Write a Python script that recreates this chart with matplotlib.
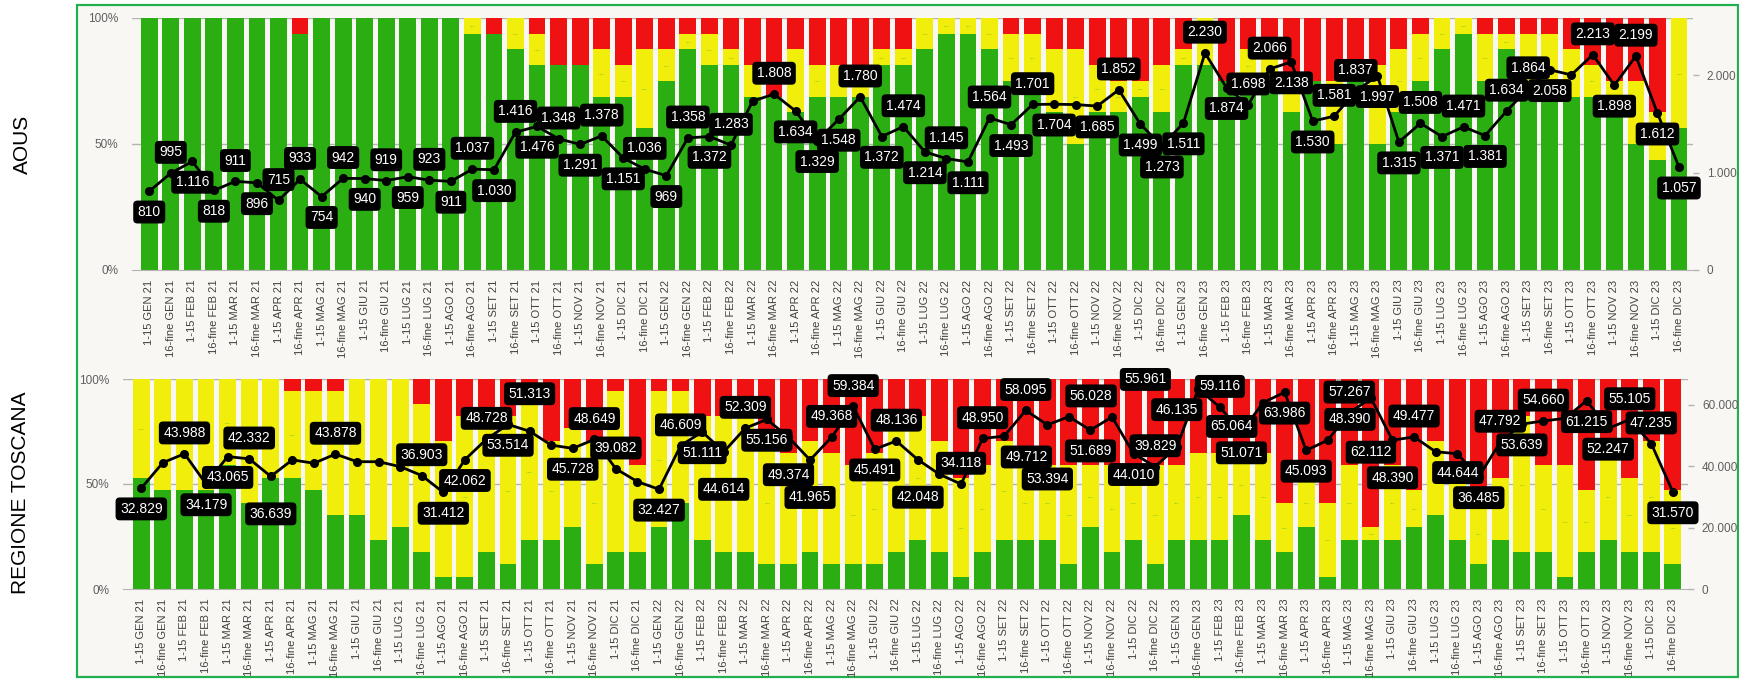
import matplotlib
matplotlib.use("Agg")
import matplotlib.pyplot as plt
import numpy as np
from matplotlib.patches import Rectangle

plt.rcParams['font.family'] = ['Liberation Sans', 'DejaVu Sans']

months = ["GEN", "FEB", "MAR", "APR", "MAG", "GIU", "LUG", "AGO", "SET", "OTT", "NOV", "DIC"]
years = ["21", "22", "23"]
periods = [f"{h} {m} {y}" for y in years for m in months for h in ("1-15", "16-fine")]

# AOUS: conteggi verde / giallo / rosso per quindicina
aous_green = [16, 16, 16, 16, 16, 16, 16, 15, 16, 16, 16, 16, 16, 16, 16, 15,
              15, 14, 13, 13, 13, 11, 11, 9, 12, 14, 13, 13, 11, 11, 10, 11,
              11, 11, 13, 13, 14, 15, 15, 14, 12, 12, 10, 8, 10, 10, 11, 10,
              13, 13, 12, 12, 12, 10, 12, 8, 12, 8, 10, 12, 14, 15, 12, 14,
              11, 11, 11, 11, 10, 8, 7, 9]
aous_yellow = [0, 0, 0, 0, 0, 0, 0, 0, 0, 0, 0, 0, 0, 0, 0, 1,
               0, 2, 2, 0, 0, 3, 2, 5, 2, 1, 2, 1, 2, 0, 4, 2,
               2, 2, 1, 1, 2, 1, 1, 2, 3, 3, 4, 6, 3, 2, 1, 3,
               1, 3, 0, 2, 2, 2, 0, 4, 0, 5, 4, 3, 2, 1, 3, 1,
               4, 4, 3, 2, 2, 4, 3, 7]
aous_red = [0, 0, 0, 0, 0, 0, 0, 1, 0, 0, 0, 0, 0, 0, 0, 0,
            1, 0, 1, 3, 3, 2, 3, 2, 2, 1, 1, 2, 3, 5, 2, 3,
            3, 3, 2, 2, 0, 0, 0, 0, 1, 1, 2, 2, 3, 4, 4, 3,
            2, 0, 4, 2, 2, 4, 4, 4, 4, 3, 2, 1, 0, 0, 1, 1,
            1, 1, 2, 3, 4, 4, 6, 0]
aous_total = [810, 995, 1116, 818, 911, 896, 715, 933, 754, 942, 940, 919, 959, 923, 911, 1037,
              1030, 1416, 1476, 1348, 1291, 1378, 1151, 1036, 969, 1358, 1372, 1283, 1735, 1808, 1634, 1329,
              1548, 1780, 1372, 1474, 1214, 1145, 1111, 1564, 1493, 1701, 1704, 1700, 1685, 1852, 1499, 1273,
              1511, 2230, 1874, 1698, 2066, 2138, 1530, 1581, 1837, 1997, 1315, 1508, 1371, 1471, 1381, 1634,
              1864, 2058, 2005, 2213, 1898, 2199, 1612, 1057]
aous_hidden = [28, 43, 66]

# REGIONE TOSCANA
tosc_green = [9, 8, 8, 8, 10, 7, 9, 9, 8, 6, 6, 4, 5, 3, 1, 1,
              3, 2, 4, 4, 5, 2, 3, 3, 5, 7, 4, 3, 3, 2, 2, 3,
              2, 2, 2, 3, 4, 3, 1, 3, 4, 4, 4, 2, 5, 3, 4, 2,
              4, 4, 4, 6, 4, 3, 5, 1, 4, 4, 4, 5, 6, 4, 2, 4,
              3, 3, 1, 3, 4, 3, 3, 2]
tosc_yellow = [8, 9, 9, 9, 7, 10, 8, 7, 8, 10, 11, 13, 12, 12, 11, 13,
               11, 12, 11, 8, 8, 10, 13, 7, 11, 9, 10, 11, 11, 10, 9, 9,
               9, 8, 9, 11, 10, 9, 8, 7, 8, 6, 6, 8, 5, 7, 6, 8,
               6, 7, 7, 5, 7, 4, 4, 6, 6, 1, 6, 3, 6, 6, 5, 5,
               11, 7, 9, 5, 7, 6, 9, 6]
tosc_red = [0, 0, 0, 0, 0, 0, 0, 1, 1, 1, 0, 0, 0, 2, 5, 3,
            3, 3, 2, 5, 4, 5, 1, 7, 1, 1, 3, 3, 3, 5, 6, 5,
            6, 7, 6, 3, 3, 5, 8, 7, 5, 7, 7, 7, 7, 7, 7, 7,
            7, 6, 6, 6, 6, 10, 8, 10, 7, 12, 7, 9, 5, 7, 10, 8,
            3, 7, 7, 9, 6, 8, 5, 9]
tosc_total = [32829, 41100, 43988, 34179, 43065, 42332, 36639, 42000, 40900, 43878, 41400, 41400, 39800, 36903, 31412, 42062,
              48728, 53514, 51313, 46800, 45728, 48649, 39082, 34900, 32427, 46609, 51111, 44614, 52309, 55156, 49374, 41965,
              49368, 59384, 45491, 48136, 42048, 37300, 34118, 48950, 49712, 58095, 53394, 56028, 51689, 55961, 44010, 39829,
              46135, 65064, 59116, 51071, 60600, 63986, 45093, 48390, 57267, 62112, 48390, 49477, 44644, 44000, 36485, 47792,
              53639, 54660, 55500, 61215, 52247, 55105, 47235, 31570]
tosc_hidden = [1, 7, 8, 10, 11, 12, 19, 23, 37, 52, 61, 66]

GREEN = '#2aae12'
YELLOW = '#f2ee0c'
RED = '#f01212'
DOTS = '#56b82a'
GRID = '#b4b4b4'
TXT = '#5f5f5f'

W, H = 1739, 679


def it_num(v):
    return f"{v:,}".replace(",", ".")


def overlap_area(bb, boxes):
    tot = 0.0
    for o in boxes:
        w = min(bb.x1, o.x1) - max(bb.x0, o.x0)
        h = min(bb.y1, o.y1) - max(bb.y0, o.y0)
        if w > 0 and h > 0:
            tot += w * h
    return tot


def add_label(ax2, xi, v, off):
    return ax2.annotate(it_num(v), (xi, v), xytext=off,
                        textcoords='offset points', ha='center', va='center',
                        fontsize=10, color='white', zorder=6,
                        annotation_clip=False,
                        bbox=dict(boxstyle='round,pad=0.32,rounding_size=0.3',
                                  fc='black', ec='none'))


def panel(rect, green, yellow, red, total, hidden, ymax, rticks, xlim):
    ax = fig.add_axes(rect)
    ax.set_facecolor('none')
    g = np.array(green, float)
    y = np.array(yellow, float)
    r = np.array(red, float)
    n = g + y + r
    gp, yp, rp = 100 * g / n, 100 * y / n, 100 * r / n
    x = np.arange(len(periods))
    for lv in (50, 100):
        ax.axhline(lv, color=GRID, lw=1, zorder=0)
    ax.bar(x, gp, 0.78, color=GREEN, zorder=2)
    ax.bar(x, yp, 0.78, bottom=gp, color=YELLOW, zorder=2)
    ax.bar(x, rp, 0.78, bottom=gp + yp, color=RED, zorder=2)
    dots = []
    for i in range(len(x)):
        if yp[i] > 0:
            dots.append(ax.text(x[i], gp[i] + yp[i] / 2, '...', fontsize=5,
                                color=DOTS, ha='center', va='center', zorder=3))
    ax.set_xlim(*xlim)
    ax.set_ylim(0, 100)
    ax.set_yticks([0, 50, 100])
    ax.set_yticklabels(['0%', '50%', '100%'])
    ax.set_xticks(x)
    ax.set_xticklabels(periods, rotation=90, fontsize=8, color='#404040')
    ax.tick_params(axis='x', length=0, pad=7)
    ax.tick_params(axis='y', length=0, pad=10, labelsize=8.5, labelcolor=TXT)
    for s in ('left', 'right', 'top'):
        ax.spines[s].set_visible(False)
    ax.spines['bottom'].set_color(GRID)

    ax2 = ax.twinx()
    ax2.plot(x, total, color='black', lw=2, marker='o', ms=5.5, zorder=4)
    ax2.set_ylim(0, ymax)
    ax2.set_yticks(rticks)
    ax2.set_yticklabels([it_num(t) for t in rticks])
    ax2.tick_params(axis='y', length=4, width=1, color=GRID, pad=6,
                    labelsize=8.5, labelcolor=TXT)
    for s in ax2.spines.values():
        s.set_visible(False)

    # etichette dati: sopra o sotto il punto, spostate se si sovrappongono
    renderer = fig.canvas.get_renderer()
    top_px = ax.get_window_extent(renderer).y1 + 14
    boxes = []
    base = [(0, 15), (0, -15), (0, 27), (0, -27), (16, 15), (-16, 15),
            (16, -15), (-16, -15), (0, 39), (0, -39), (24, 27), (-24, -27),
            (24, -27), (-24, 27)]
    for i, v in enumerate(total):
        if i in hidden:
            continue
        left = total[i - 1] if i > 0 else total[i + 1]
        right = total[i + 1] if i < len(total) - 1 else total[i - 1]
        up = v >= (left + right) / 2
        cands = base if up else [(dx, -dy) for dx, dy in base]
        best = None
        for off in cands:
            a = add_label(ax2, x[i], v, off)
            bb = a.get_window_extent(renderer).expanded(1.12, 1.5)
            a.remove()
            score = overlap_area(bb, boxes) + (1e6 if bb.y1 > top_px else 0)
            if best is None or score < best[0]:
                best = (score, off, bb)
            if score == 0:
                break
        add_label(ax2, x[i], v, best[1])
        boxes.append(best[2])
    for d in dots:
        if overlap_area(d.get_window_extent(renderer), boxes) > 0:
            d.remove()
    return ax


fig = plt.figure(figsize=(W / 100, H / 100), dpi=100)
fig.patch.set_facecolor('white')
fig.patches.append(Rectangle((77 / W, 2 / H), (1738 - 77) / W, (674 - 2) / H,
                             transform=fig.transFigure, facecolor='#f8f7f3',
                             edgecolor='#22b04e', lw=1.6, zorder=-1))

panel([132 / W, 1 - 270 / H, (1693 - 132) / W, (270 - 18) / H],
      aous_green, aous_yellow, aous_red, aous_total, aous_hidden,
      2590, [0, 1000, 2000], (-0.8, 71.65))
panel([123 / W, 1 - 589 / H, (1688 - 123) / W, (589 - 379) / H],
      tosc_green, tosc_yellow, tosc_red, tosc_total, tosc_hidden,
      68300, [0, 20000, 40000, 60000], (-0.85, 71.7))

fig.text(22 / W, 1 - 144 / H, 'AOUS', rotation=90, ha='center', va='center',
         fontsize=15, color='black')
fig.text(21 / W, 1 - 493 / H, 'REGIONE TOSCANA', rotation=90, ha='center',
         va='center', fontsize=15, color='black')

fig.savefig('out.png', dpi=100, facecolor='white')
